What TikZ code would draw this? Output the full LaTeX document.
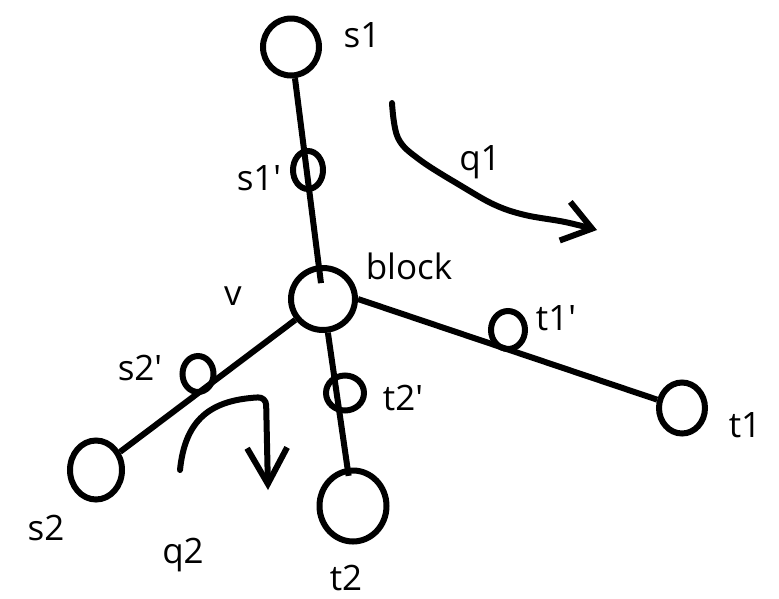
\documentclass[tikz,border=0pt]{standalone}
\usepackage{fontspec}
\setmainfont{Open Sans}
\usepackage{tikz}
\usetikzlibrary{shapes.geometric,arrows.meta}

\begin{document}
\begin{tikzpicture}[x=1pt, y=-1pt, line width=6pt,
  vtx/.style 2 args={ellipse, draw, inner sep=0pt, minimum width=#1, minimum height=#2},
  lbl/.style={anchor=base, inner sep=0pt, font=\fontsize{35}{40}\selectfont},
  turn/.style={-{Straight Barb[length=#1, width=40pt]}, line cap=round, line join=round}]
\useasboundingbox (0,0) rectangle (779,598);
\node[vtx={56pt}{57pt}] (s1) at (291,47) {};
\node[vtx={30pt}{38pt}] (s1p) at (308,170) {};
\node[vtx={64pt}{62pt}] (blk) at (323,299) {};
\node[vtx={34pt}{38pt}] (t1p) at (508,330) {};
\node[vtx={46pt}{51pt}] (t1) at (682,408) {};
\node[vtx={38pt}{35pt}] (t2p) at (345,393) {};
\node[vtx={67pt}{71pt}] (t2) at (353,506) {};
\node[vtx={31pt}{36pt}] (s2p) at (198,374) {};
\node[vtx={52pt}{59pt}] (s2) at (96,470) {};
\draw[shorten >=-18pt] (s1) -- (blk);
\draw (blk.east) -- (t1);
\draw[shorten >=-8pt] (blk) -- (t2);
\draw (blk) -- (s2);
\node[lbl] (s1lbl) at (362,47) {s1};
\node[lbl] (s1plbl) at (259,190) {s1\textquotesingle};
\node[lbl] (vlbl) at (233,305) {v};
\node[lbl] (blklbl) at (409,279) {block};
\node[lbl] (t1plbl) at (556,330) {t1\textquotesingle};
\node[lbl] (t1lbl) at (745,437) {t1};
\node[lbl] (t2plbl) at (403,410) {t2\textquotesingle};
\node[lbl] (t2lbl) at (346,590) {t2};
\node[lbl] (s2plbl) at (140,380) {s2\textquotesingle};
\node[lbl] (s2lbl) at (46,540) {s2};
\node[lbl] (q1lbl) at (480,170) {q1};
\node[lbl] (q2lbl) at (183,563) {q2};
\draw[turn=28pt] plot[smooth, tension=0.6] coordinates {(392,103) (398,138) (420,160) (463,187) (495,205) (525,215) (565,222) (597,230)};
\draw[turn=36pt, rounded corners=8pt] (180,470) .. controls (185,420) and (210,400) .. (266,397) -- (268,490);
\end{tikzpicture}
\end{document}
